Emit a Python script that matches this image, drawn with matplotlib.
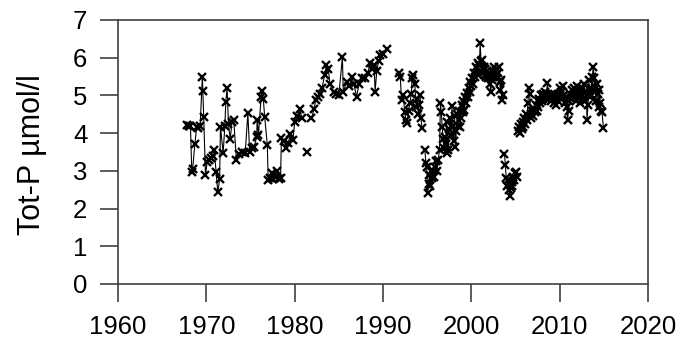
import matplotlib
matplotlib.use("Agg")
import matplotlib.pyplot as plt

plt.rcParams['font.family'] = ['Liberation Sans', 'DejaVu Sans']

# sampling runs (decimal year, Tot-P umol/l); breaks between runs are data gaps
years_1968 = [1967.85, 1968.0, 1968.2, 1968.35, 1968.45, 1968.7, 1968.9, 1969.1, 1969.3, 1969.55,
              1969.6, 1969.7, 1969.9, 1970.1, 1970.3, 1970.5, 1970.7, 1970.9, 1971.1, 1971.3,
              1971.5, 1971.6, 1971.9, 1972.1, 1972.2, 1972.35, 1972.5, 1972.7, 1972.9, 1973.1,
              1973.4, 1973.7, 1974.0, 1974.4, 1974.7, 1974.9, 1975.2, 1975.4, 1975.7, 1975.75,
              1975.9, 1976.2, 1976.3, 1976.45, 1976.6, 1976.9, 1977.0, 1977.2, 1977.4, 1977.6,
              1977.8, 1978.0, 1978.2, 1978.4, 1978.5, 1978.8, 1979.0, 1979.3, 1979.5, 1979.8,
              1980.0, 1980.3, 1980.6, 1980.8]
totp_1968 = [4.22, 4.18, 4.20, 2.98, 3.05, 3.71, 4.15, 4.13, 4.20, 5.50,
             5.13, 4.44, 2.89, 3.24, 3.30, 3.33, 3.40, 3.55, 2.98, 2.43,
             2.78, 4.17, 3.47, 4.20, 4.83, 5.19, 4.25, 3.84, 4.30, 4.35,
             3.29, 3.45, 3.51, 3.48, 4.53, 3.50, 3.60, 3.62, 3.90, 4.35,
             3.95, 4.97, 5.13, 4.90, 4.44, 3.69, 2.76, 2.80, 2.95, 2.78,
             2.85, 3.00, 2.78, 2.82, 3.86, 3.80, 3.60, 3.75, 3.99, 3.82,
             4.30, 4.45, 4.64, 4.40]

years_1981 = [1981.4]
totp_1981 = [3.51]

years_1982 = [1981.9, 1982.2, 1982.4, 1982.6, 1982.9, 1983.1, 1983.4, 1983.6, 1983.8, 1984.0,
              1984.4, 1984.7, 1985.0, 1985.4, 1985.5, 1985.9, 1986.2, 1986.5, 1986.7, 1987.0,
              1987.3, 1987.6, 1988.0, 1988.3, 1988.5, 1988.8, 1989.0, 1989.1, 1989.3, 1989.5,
              1989.7, 1990.0, 1990.4]
totp_1982 = [4.39, 4.65, 4.88, 4.97, 5.05, 5.20, 5.55, 5.80, 5.70, 5.30,
             5.10, 5.05, 5.01, 6.01, 5.10, 5.36, 5.25, 5.48, 5.30, 4.97,
             5.30, 5.45, 5.45, 5.60, 5.85, 5.70, 5.80, 5.10, 5.65, 5.90,
             6.07, 6.10, 6.22]

years_1992 = [1991.85, 1991.95, 1992.1, 1992.3, 1992.45, 1992.6, 1992.75, 1992.9, 1993.05, 1993.2,
              1993.3, 1993.45, 1993.6, 1993.75, 1993.9, 1994.0, 1994.1, 1994.2, 1994.3, 1994.4]
totp_1992 = [5.60, 5.50, 4.88, 5.00, 4.55, 4.35, 4.27, 4.60, 4.80, 5.05,
             5.45, 5.54, 5.30, 4.70, 4.90, 4.50, 4.75, 5.00, 4.40, 4.14]

years_1995 = [1994.75, 1994.85, 1994.95, 1995.05, 1995.15, 1995.25, 1995.35, 1995.5, 1995.6, 1995.75,
              1995.9, 1996.0, 1996.1, 1996.25, 1996.4, 1996.5, 1996.6, 1996.7, 1996.8, 1996.9,
              1997.0, 1997.1, 1997.2, 1997.3, 1997.4, 1997.5, 1997.6, 1997.7, 1997.8, 1997.9,
              1998.0, 1998.1, 1998.2, 1998.3, 1998.4, 1998.5, 1998.6, 1998.7, 1998.8, 1998.9,
              1999.0, 1999.1, 1999.2, 1999.3, 1999.4, 1999.5, 1999.6, 1999.7, 1999.8, 1999.9,
              2000.0, 2000.1, 2000.2, 2000.3, 2000.4, 2000.5, 2000.6, 2000.7, 2000.8, 2000.9,
              2001.0, 2001.1, 2001.2, 2001.3, 2001.4, 2001.5, 2001.6, 2001.7, 2001.8, 2001.9,
              2002.0, 2002.1, 2002.2, 2002.3, 2002.4, 2002.5, 2002.6, 2002.7, 2002.8, 2002.9,
              2003.0, 2003.1, 2003.2, 2003.3, 2003.4, 2003.5, 2003.6]
totp_1995 = [3.55, 3.20, 3.11, 2.40, 2.65, 2.90, 2.60, 2.80, 3.02, 2.85,
             3.10, 3.25, 3.00, 3.29, 3.55, 4.79, 4.55, 4.17, 3.85, 3.60,
             3.90, 3.70, 4.30, 3.47, 3.55, 4.10, 4.40, 3.95, 4.71, 4.20,
             3.80, 4.45, 3.64, 4.05, 4.50, 4.20, 4.60, 4.17, 4.40, 4.75,
             4.55, 4.85, 4.61, 4.95, 4.80, 5.06, 4.95, 5.20, 5.10, 5.35,
             5.25, 5.45, 5.30, 5.59, 5.50, 5.75, 5.60, 5.85, 5.54, 5.80,
             6.38, 5.90, 5.94, 5.60, 5.75, 5.55, 5.70, 5.50, 5.65, 5.45,
             5.59, 5.30, 5.10, 5.40, 5.65, 5.50, 5.75, 5.55, 5.70, 5.45,
             5.60, 5.76, 5.35, 5.14, 5.40, 4.88, 5.00]

years_2004 = [2003.75, 2003.85, 2003.95, 2004.05, 2004.15, 2004.25, 2004.35, 2004.45, 2004.55, 2004.65,
              2004.75, 2004.85, 2004.95, 2005.05, 2005.15]
totp_2004 = [3.45, 3.16, 2.80, 2.60, 2.75, 2.50, 2.32, 2.55, 2.70, 2.60,
             2.85, 2.76, 2.95, 2.98, 2.85]

years_2005 = [2005.3, 2005.4, 2005.5, 2005.6, 2005.7, 2005.8, 2005.9, 2006.0, 2006.1, 2006.2,
              2006.3, 2006.4, 2006.5, 2006.6, 2006.7, 2006.8, 2006.9, 2007.0, 2007.1, 2007.2,
              2007.3, 2007.4, 2007.5, 2007.6, 2007.7, 2007.8, 2007.9, 2008.0, 2008.1, 2008.2,
              2008.3, 2008.4, 2008.5, 2008.6, 2008.7, 2008.8, 2008.9, 2009.0, 2009.1, 2009.2,
              2009.3, 2009.4, 2009.5, 2009.6, 2009.7, 2009.8, 2009.9, 2010.0, 2010.1, 2010.2,
              2010.3, 2010.4, 2010.5, 2010.6, 2010.7, 2010.8, 2010.9, 2011.0, 2011.1, 2011.2,
              2011.3, 2011.4, 2011.5, 2011.6, 2011.7, 2011.8, 2011.9, 2012.0, 2012.1, 2012.2,
              2012.3, 2012.4, 2012.5, 2012.6, 2012.7, 2012.8, 2012.9, 2013.0, 2013.1, 2013.2,
              2013.3, 2013.4, 2013.5, 2013.6, 2013.7, 2013.8, 2013.9, 2014.0, 2014.1, 2014.2,
              2014.3, 2014.4, 2014.5, 2014.6, 2014.7, 2014.8, 2014.95]
totp_2005 = [4.05, 4.15, 4.00, 4.25, 4.10, 4.30, 4.15, 4.40, 4.25, 4.50,
             4.35, 4.79, 5.20, 5.05, 4.50, 4.40, 4.60, 4.45, 4.65, 4.55,
             4.75, 4.60, 4.85, 4.70, 4.90, 4.80, 5.00, 4.85, 5.05, 4.95,
             5.10, 4.90, 5.00, 5.32, 5.05, 4.90, 5.00, 4.85, 5.05, 4.95,
             4.80, 5.00, 4.90, 4.75, 4.95, 4.85, 5.05, 5.20, 4.90, 5.10,
             4.95, 5.25, 5.00, 4.80, 4.95, 4.70, 4.35, 4.60, 4.85, 5.05,
             4.90, 5.15, 5.00, 5.20, 5.05, 4.85, 5.10, 5.25, 4.95, 5.15,
             4.80, 5.05, 5.20, 4.90, 5.10, 5.30, 4.85, 5.10, 4.35, 4.75,
             5.40, 4.95, 5.20, 5.00, 5.50, 5.76, 5.45, 5.20, 4.85, 5.30,
             5.05, 4.70, 5.15, 4.80, 4.60, 4.55, 4.13]

runs = [(years_1968, totp_1968), (years_1981, totp_1981), (years_1982, totp_1982),
        (years_1992, totp_1992), (years_1995, totp_1995), (years_2004, totp_2004),
        (years_2005, totp_2005)]

x_ticks = [1960, 1970, 1980, 1990, 2000, 2010, 2020]
y_ticks = [0, 1, 2, 3, 4, 5, 6, 7]

fig = plt.figure(figsize=(6.95, 3.47), dpi=100)
ax = fig.add_axes([0.1698, 0.1816, 0.7626, 0.7608])

for yrs, vals in runs:
    ax.plot(yrs, vals, color='black', linewidth=0.8, marker='x', markersize=5.5,
            markeredgewidth=1.7)

ax.set_xlim(1960, 2020)
ax.set_ylim(0, 7)
ax.set_xticks(x_ticks)
ax.set_yticks(y_ticks)
ax.tick_params(direction='out', length=13, width=1.2, color='#404040',
               labelsize=18.5, pad=9)
for s in ax.spines.values():
    s.set_color('#404040')
    s.set_linewidth(1.2)

ax.set_ylabel('Tot-P µmol/l', fontsize=22)
ax.yaxis.set_label_coords(-0.134, 0.49)

fig.savefig('out.png', dpi=100)
